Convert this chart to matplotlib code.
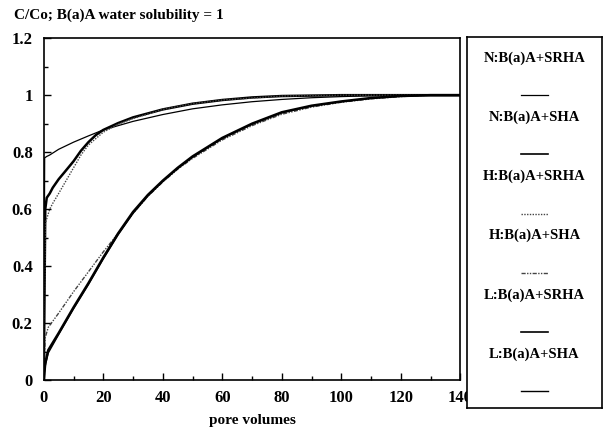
import matplotlib.pyplot as plt
from matplotlib.ticker import MultipleLocator

plt.rcParams['font.family'] = ['Liberation Serif', 'DejaVu Serif']

# Curvas de ruptura C/Co contra volumenes de poro
etiquetas = ['N:B(a)A+SRHA', 'N:B(a)A+SHA', 'H:B(a)A+SRHA',
             'H:B(a)A+SHA', 'L:B(a)A+SRHA', 'L:B(a)A+SHA']

x_n_srha = [0, 0.3, 1, 2, 5, 10, 15, 20, 30, 40, 50, 60, 70, 80, 90, 100, 110, 120, 130, 140]
y_n_srha = [0, 0.78, 0.785, 0.79, 0.81, 0.835, 0.857, 0.878, 0.908, 0.932, 0.952, 0.966,
            0.977, 0.985, 0.991, 0.995, 0.998, 1.0, 1.0, 1.0]

x_n_sha = [0, 0.5, 1, 2, 3, 5, 7, 10, 12.5, 15, 17.5, 20, 25, 30, 40, 50, 60, 70, 80,
           100, 120, 140]
y_n_sha = [0, 0.6, 0.64, 0.655, 0.675, 0.705, 0.73, 0.768, 0.805, 0.835, 0.86, 0.878,
           0.902, 0.922, 0.95, 0.97, 0.983, 0.992, 0.997, 1.0, 1.0, 1.0]

x_h_srha = [0, 0.5, 2, 3, 5, 7.5, 10, 12.5, 15, 20, 25, 30, 40, 50, 60, 80, 100, 140]
y_h_srha = [0, 0.55, 0.6, 0.62, 0.655, 0.7, 0.745, 0.79, 0.825, 0.87, 0.898, 0.918,
            0.95, 0.97, 0.983, 0.997, 1.0, 1.0]

x_bajo = [0, 0.5, 1.5, 5, 10, 15, 20, 25, 30, 35, 40, 45, 50, 60, 70, 80, 90, 100,
          110, 120, 130, 140]
y_h_sha = [0, 0.15, 0.185, 0.235, 0.31, 0.38, 0.45, 0.515, 0.585, 0.645, 0.695, 0.74,
           0.778, 0.843, 0.893, 0.933, 0.958, 0.975, 0.987, 0.995, 1.0, 1.0]
y_l_srha = [0, 0.06, 0.105, 0.165, 0.255, 0.34, 0.43, 0.515, 0.59, 0.65, 0.70, 0.745,
            0.785, 0.85, 0.9, 0.94, 0.963, 0.978, 0.99, 0.997, 1.0, 1.0]
y_l_sha = [0, 0.05, 0.095, 0.16, 0.25, 0.335, 0.425, 0.51, 0.585, 0.646, 0.697, 0.742,
           0.782, 0.848, 0.898, 0.938, 0.962, 0.977, 0.989, 0.997, 1.0, 1.0]

series = [(x_n_srha, y_n_srha), (x_n_sha, y_n_sha), (x_h_srha, y_h_srha),
          (x_bajo, y_h_sha), (x_bajo, y_l_srha), (x_bajo, y_l_sha)]
estilos = [dict(color='black', lw=0.9, ls='-'),
           dict(color='black', lw=1.8, ls='-'),
           dict(color='#444444', lw=1.0, ls=(0, (1, 1))),
           dict(color='#444444', lw=1.0, ls=(0, (3, 1, 1, 1, 1, 1))),
           dict(color='black', lw=1.8, ls='-'),
           dict(color='black', lw=1.0, ls='-')]

fig = plt.figure(figsize=(6.08, 4.29), dpi=100)
ax = fig.add_axes([0.072, 0.114, 0.685, 0.797])

for (x, y), est in zip(series, estilos):
    ax.plot(x, y, **est)

ax.set_xlim(0, 140)
ax.set_ylim(0, 1.2)
ax.xaxis.set_major_locator(MultipleLocator(20))
ax.xaxis.set_minor_locator(MultipleLocator(10))
ax.yaxis.set_minor_locator(MultipleLocator(0.1))
ax.set_yticks([0, 0.2, 0.4, 0.6, 0.8, 1, 1.2])
ax.set_yticklabels(['0', '0.2', '0.4', '0.6', '0.8', '1', '1.2'])
ax.tick_params(which='major', direction='in', length=5, width=1, labelsize=12)
ax.tick_params(axis='x', which='major', pad=7)
ax.tick_params(axis='y', which='major', pad=8)
ax.tick_params(which='minor', direction='in', length=3, width=1)
for lab in ax.get_xticklabels() + ax.get_yticklabels():
    lab.set_fontweight('bold')
for s in ax.spines.values():
    s.set_linewidth(1.2)
ax.set_xlabel('pore volumes', fontsize=11, fontweight='bold', labelpad=6)

fig.text(0.023, 0.965, 'C/Co; B(a)A water solubility = 1', fontsize=11,
         fontweight='bold', va='center')

# Leyenda en caja aparte
lg = fig.add_axes([0.768, 0.049, 0.222, 0.865])
lg.set_xlim(0, 1)
lg.set_ylim(0, 1)
lg.set_xticks([])
lg.set_yticks([])
for s in lg.spines.values():
    s.set_linewidth(1.2)
for i, (et, est) in enumerate(zip(etiquetas, estilos)):
    yt = 0.943 - i * 0.1595
    lg.text(0.5, yt, et, ha='center', va='center', fontsize=10.5, fontweight='bold')
    lg.plot([0.4, 0.6], [yt - 0.1, yt - 0.1], color=est['color'], ls=est['ls'],
            lw=min(est['lw'], 1.2))

fig.savefig('out.png', dpi=100)
